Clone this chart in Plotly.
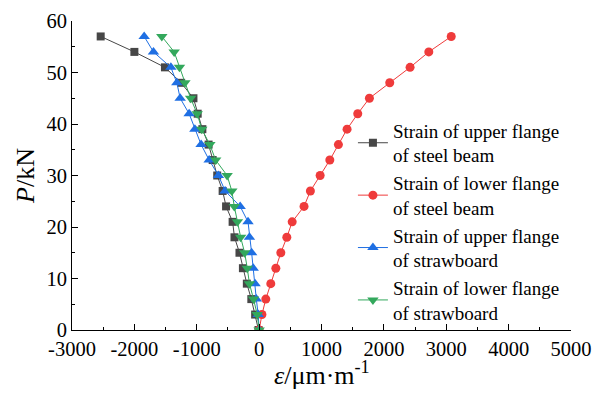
import plotly.graph_objects as go

# Load steps (kN)
load = [0, 3, 6, 9, 12, 15, 18, 21, 24, 27, 30, 33, 36, 39, 42, 45, 48, 51, 54, 57]

# Strain values (µm/m)
upper_steel = [-10, -64, -125, -197, -260, -315, -395, -425, -530, -585,
               -672, -745, -810, -910, -985, -1053, -1250, -1510, -2000, -2540]
lower_steel = [0, 45, 107, 187, 268, 348, 444, 530, 720, 822,
               978, 1133, 1271, 1410, 1581, 1768, 2094, 2420, 2720, 3080]
upper_straw = [0, -15, -45, -65, -95, -120, -155, -178, -304, -545,
               -652, -801, -930, -1030, -1122, -1266, -1319, -1415, -1694, -1843]
lower_straw = [0, -30, -90, -155, -190, -232, -296, -348, -398, -438,
               -513, -697, -790, -920, -993, -1098, -1190, -1277, -1362, -1560]

# Tick labels
x_tickvals = [-3000, -2000, -1000, 0, 1000, 2000, 3000, 4000, 5000]
x_ticktext = ["-3000", "-2000", "-1000", "0", "1000", "2000", "3000", "4000", "5000"]
y_tickvals = [0, 10, 20, 30, 40, 50, 60]
y_ticktext = ["0", "10", "20", "30", "40", "50", "60"]

names = ["Strain of upper flange<br>of steel beam",
         "Strain of lower flange<br>of steel beam",
         "Strain of upper flange<br>of strawboard",
         "Strain of lower flange<br>of strawboard"]
colors = ["#474747", "#EF3B3B", "#1F6FE3", "#33A85C"]
symbols = ["square", "circle", "triangle-up", "triangle-down"]
sizes = [8, 9, 10, 10]
series = [upper_steel, lower_steel, upper_straw, lower_straw]

FONT = "Times New Roman, Liberation Serif, serif"

fig = go.Figure()
for s, n, c, sym, sz in zip(series, names, colors, symbols, sizes):
    fig.add_trace(go.Scatter(
        x=s, y=load, name=n, mode="lines+markers",
        line=dict(color=c, width=1),
        marker=dict(color=c, symbol=sym, size=sz, line=dict(width=0)),
    ))

fig.update_layout(
    width=593, height=394,
    margin=dict(l=72, r=22, t=21, b=64),
    paper_bgcolor="white", plot_bgcolor="white",
    font=dict(family=FONT, size=19, color="black"),
    showlegend=True,
    legend=dict(
        x=0.563, y=0.707, xanchor="left", yanchor="top",
        bgcolor="rgba(0,0,0,0)", borderwidth=0,
        font=dict(family=FONT, size=19, color="black"),
        tracegroupgap=0, itemwidth=30,
    ),
    annotations=[dict(
        text="<i>ε</i>/μm·m<sup>-1</sup>", xref="paper", yref="paper",
        x=0.5, y=-0.142, xanchor="center", yanchor="middle",
        showarrow=False, font=dict(family=FONT, size=26),
    )],
)
fig.update_xaxes(
    range=[-3000, 5000], tickvals=x_tickvals, ticktext=x_ticktext,
    showgrid=False, zeroline=False, automargin=False,
    showline=True, linecolor="black", linewidth=1,
    ticks="inside", ticklen=6, tickcolor="black",
    minor=dict(ticks="inside", ticklen=3, dtick=500, tick0=0, tickcolor="black"),
    tickfont=dict(family=FONT, size=20.5),
)
fig.update_yaxes(
    range=[0, 60], tickvals=y_tickvals, ticktext=y_ticktext,
    showgrid=False, zeroline=False, automargin=False,
    showline=True, linecolor="black", linewidth=1,
    ticks="inside", ticklen=6, tickcolor="black",
    minor=dict(ticks="inside", ticklen=3, dtick=5, tick0=0, tickcolor="black"),
    tickfont=dict(family=FONT, size=20.5),
    title=dict(text="<i>P</i>/kN", font=dict(family=FONT, size=26), standoff=4),
)

fig.write_html("out.html", config={"displayModeBar": False},
               post_script="document.body.style.margin='0';")
